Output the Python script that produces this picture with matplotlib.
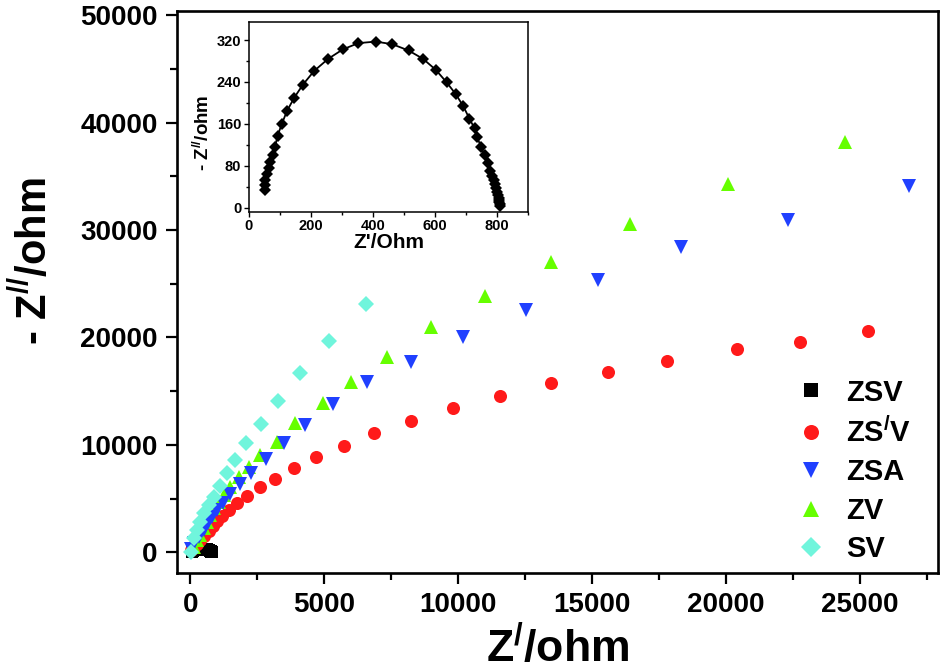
import matplotlib
matplotlib.use("Agg")
import matplotlib.pyplot as plt
from matplotlib.ticker import MultipleLocator

plt.rcParams['font.family'] = ['Liberation Sans', 'DejaVu Sans']
plt.rcParams['font.weight'] = 'bold'
plt.rcParams['mathtext.fontset'] = 'custom'
plt.rcParams['mathtext.rm'] = 'Liberation Sans:bold'
plt.rcParams['mathtext.bf'] = 'Liberation Sans:bold'
plt.rcParams['mathtext.it'] = 'Liberation Sans:bold'

# ZSV (also shown in the inset)
zsv_x = [50, 50, 52, 57, 63, 68, 76, 84, 92, 106, 122, 146, 174, 210, 255, 302, 352, 408,
         462, 514, 561, 602, 637, 667, 691, 710, 727, 735, 748, 759, 770, 778, 783, 788,
         792, 797, 799, 802, 804, 805, 806, 808, 810]
zsv_y = [34, 43, 53, 64, 75, 86, 100, 116, 137, 160, 184, 210, 235, 261, 284, 302, 314, 317,
         312, 300, 284, 263, 239, 216, 193, 170, 151, 134, 116, 100, 85, 69, 60, 53,
         45, 37, 30, 24, 19, 15, 11, 7, 3]

# ZS'V
zspv_x = [40, 124, 249, 373, 522, 684, 846, 995, 1181, 1430, 1740, 2114, 2586, 3172, 3881,
          4701, 5720, 6840, 8250, 9810, 11556, 13478, 15582, 17776, 20400, 22750, 25291]
zspv_y = [200, 465, 772, 1145, 1517, 2010, 2447, 2941, 3378, 3936, 4560, 5239, 6049, 6849, 7817,
          8840, 9920, 11074, 12246, 13400, 14573, 15727, 16778, 17802, 18890, 19599, 20622]

# ZSA
zsa_x = [20, 124, 311, 497, 647, 808, 995, 1219, 1493, 1840, 2264, 2836, 3483, 4291, 5323,
         6592, 8246, 10187, 12511, 15220, 18321, 22321, 26840]
zsa_y = [300, 838, 1452, 2075, 2699, 3313, 3936, 4616, 5425, 6356, 7407, 8654, 10199, 11846, 13800,
         15880, 17681, 20010, 22548, 25340, 28441, 30923, 34087]

# ZV
zv_x = [124, 249, 373, 497, 622, 746, 896, 1057, 1243, 1493, 1803, 2177, 2612, 3234, 3918,
        4950, 5995, 7338, 8996, 11000, 13451, 16422, 20075, 24440]
zv_y = [521, 1145, 1610, 2233, 2848, 3471, 4094, 4709, 5332, 6105, 6979, 7966, 9055, 10290, 12000,
        13870, 15880, 18200, 20938, 23851, 27045, 30523, 34338, 38210]

# SV
sv_x = [10, 124, 249, 373, 522, 684, 869, 1119, 1369, 1679, 2090, 2637, 3271, 4104, 5187, 6567]
sv_y = [50, 1303, 2075, 2848, 3629, 4402, 5174, 6170, 7351, 8589, 10143, 11939, 14080, 16657,
        19635, 23078]

fig = plt.figure(figsize=(9.45, 6.72), dpi=100)
ax = fig.add_axes([0.1873, 0.1478, 0.805, 0.8358])

ax.plot(zsv_x, zsv_y, 's', color='black', ms=8.6, mew=0, label='ZSV', zorder=2)
ax.plot(zspv_x, zspv_y, 'o', color='#ff1a1a', ms=9.4, mew=0, label=r'ZS$^{\mathbf{/}}$V', zorder=3)
ax.plot(zsa_x, zsa_y, 'v', color='#2040ff', ms=10, mew=0, label='ZSA', zorder=5)
ax.plot(zv_x, zv_y, '^', color='#66ff00', ms=10, mew=0, label='ZV', zorder=4)
ax.plot(sv_x, sv_y, 'D', color='#70f5dc', ms=8.5, mew=0, label='SV', zorder=6)

ax.set_xlim(-500, 27900)
ax.set_ylim(-1900, 50400)
ax.xaxis.set_major_locator(MultipleLocator(5000))
ax.xaxis.set_minor_locator(MultipleLocator(2500))
ax.yaxis.set_major_locator(MultipleLocator(10000))
ax.yaxis.set_minor_locator(MultipleLocator(5000))
ax.tick_params(which='both', direction='out', width=1.6, top=False, right=False)
ax.tick_params(which='major', length=8, labelsize=20, pad=6)
ax.tick_params(which='minor', length=5)
for s in ax.spines.values():
    s.set_linewidth(1.9)

ax.set_xlabel(r'Z$^{\mathbf{/}}$/ohm', fontsize=32, fontweight='bold', labelpad=6)
ax.set_ylabel(r'- Z$^{\mathbf{//}}$/ohm', fontsize=30, fontweight='bold')
ax.yaxis.set_label_coords(-0.16, 0.555)

handles, labels = ax.get_legend_handles_labels()
leg = ax.legend(handles, labels, loc='lower right', bbox_to_anchor=(1.0, -0.03),
                frameon=False, fontsize=21, labelspacing=0.36, handletextpad=0.6,
                handlelength=1.2, markerscale=1.15)

# inset
ins = fig.add_axes([249 / 945, (672 - 211.7) / 672, 279.3 / 945, 190 / 672])
ins.plot(zsv_x, zsv_y, '-', color='black', lw=1.3)
ins.plot(zsv_x, zsv_y, 'D', color='black', ms=5.8, mew=0)
ins.set_xlim(0, 900)
ins.set_ylim(-8, 355)
ins.xaxis.set_major_locator(MultipleLocator(200))
ins.xaxis.set_minor_locator(MultipleLocator(100))
ins.yaxis.set_major_locator(MultipleLocator(80))
ins.yaxis.set_minor_locator(MultipleLocator(40))
ins.tick_params(which='both', direction='out', width=1.0, top=False, right=False)
ins.tick_params(which='major', length=3.5, labelsize=10.5, pad=2)
ins.tick_params(which='minor', length=2)
for s in ins.spines.values():
    s.set_linewidth(1.1)
ins.set_xlabel("Z'/Ohm", fontsize=15, fontweight='bold', labelpad=0)
ins.set_ylabel(r'- Z$^{\mathbf{//}}$/ohm', fontsize=13.5, fontweight='bold')
ins.yaxis.set_label_coords(-0.13, 0.417)

fig.savefig('out.png', dpi=100)
